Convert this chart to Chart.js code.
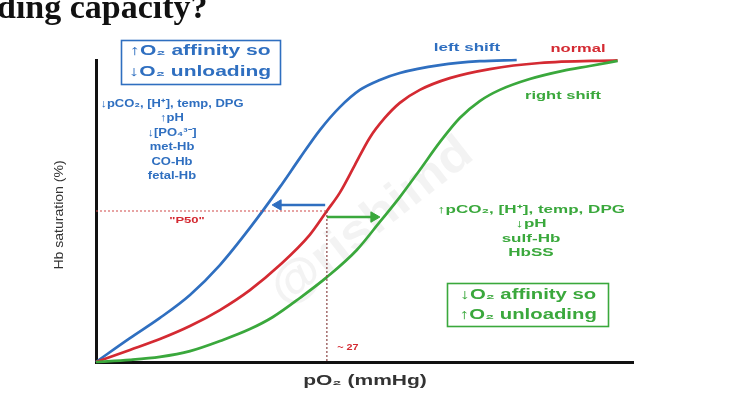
<!DOCTYPE html>
<html>
<head>
<meta charset="utf-8">
<script src="https://cdn.jsdelivr.net/npm/chart.js@4.4.1/dist/chart.umd.min.js"></script>
<style>
  html, body { margin: 0; padding: 0; background: #fff; }
  #wrap { width: 754px; height: 394px; position: relative; }
</style>
</head>
<body>
<div id="wrap"><canvas id="odc" width="754" height="394"></canvas></div>
<script>
// pO2 (mmHg) and Hb saturation (%)
const leftPO2 = [0, 3.97, 7.48, 10.99, 14.49, 18.0, 21.5, 23.84, 26.18, 28.52, 30.86, 33.19, 35.53, 40.21, 44.88, 49.2];
const leftSat = [0, 7.9, 14.6, 22.2, 32.1, 44.4, 57.9, 67.5, 76.8, 84.4, 90.1, 93.4, 95.7, 98.3, 99.6, 100];

const normalPO2 = [0, 3.97, 7.48, 10.99, 14.49, 18.0, 21.5, 25.0, 27.0, 28.5, 30.27, 32.0, 33.77, 35.53, 37.87, 41.37, 46.05, 51.89, 61.0];
const normalSat = [0, 4.0, 7.6, 11.9, 17.2, 23.8, 32.1, 42.1, 50, 56.0, 65.2, 74.2, 80.8, 85.8, 90.1, 94.0, 97.0, 99.0, 99.9];

const rightPO2 = [0, 3.97, 7.48, 10.99, 14.84, 18.0, 20.69, 23.84, 27.0, 30.5, 33.19, 35.53, 37.87, 40.21, 42.54, 44.88, 47.22, 50.72, 54.58, 57.74, 61.0];
const rightSat = [0, 0.7, 1.7, 3.6, 7.3, 10.9, 14.9, 21.2, 28.1, 37.1, 46.4, 54.6, 63.6, 72.8, 80.8, 86.4, 90.1, 93.7, 96.4, 98.0, 99.7];

const p50 = [27, 50];            // normal P50 marker
const leftArrowPO2 = [26.8, 21.3];
const leftArrowSat = [52, 52];
const rightArrowPO2 = [27.0, 32.5];
const rightArrowSat = [48, 48];

const xRange = [0, 62.8];
const yRange = [0, 100];

const BLUE = '#2f6fc0';
const RED = '#d42a32';
const GREEN = '#3aa83c';

const pts = (xs, ys) => xs.map((x, i) => ({ x: x, y: ys[i] }));

function curve(label, xs, ys, color) {
  return {
    label: label,
    data: pts(xs, ys),
    borderColor: color,
    borderWidth: 2.7,
    pointRadius: 0,
    cubicInterpolationMode: 'monotone',
    clip: false
  };
}

function arrow(xs, ys, color, rot) {
  return {
    data: pts(xs, ys),
    borderColor: color,
    backgroundColor: color,
    borderWidth: 2.5,
    pointStyle: 'triangle',
    pointRadius: [0, 6],
    pointBackgroundColor: color,
    pointBorderColor: color,
    pointBorderWidth: 1,
    rotation: [0, rot],
    clip: false
  };
}

// the source font is a wide bold face, so stretch text sideways
function wide(c, text, x, y, sx) {
  c.save();
  c.translate(x, y);
  c.scale(sx, 1);
  c.fillText(text, 0, 0);
  c.restore();
}

const sans = '"Liberation Sans", Arial, sans-serif';

const notes = {
  id: 'notes',
  beforeDatasetsDraw(chart) {
    const c = chart.ctx;
    c.save();
    c.translate(372, 222);
    c.rotate(-38 * Math.PI / 180);
    c.font = 'bold 48px ' + sans;
    c.fillStyle = 'rgba(160,160,160,0.13)';
    c.textAlign = 'center';
    c.textBaseline = 'middle';
    wide(c, '@rishimd', 0, 0, 1.1);
    c.restore();
  },
  afterDraw(chart) {
    const c = chart.ctx;
    const sx = chart.scales.x, sy = chart.scales.y;
    c.save();

    // cropped heading
    c.font = 'bold 34px "Liberation Serif", "Times New Roman", serif';
    c.fillStyle = '#111';
    c.textAlign = 'left';
    c.textBaseline = 'alphabetic';
    c.fillText('ding capacity?', -3, 18);

    c.textBaseline = 'middle';
    c.textAlign = 'center';

    // left shift box
    c.strokeStyle = BLUE;
    c.lineWidth = 1.6;
    c.strokeRect(121.5, 40.5, 159, 44);
    c.fillStyle = BLUE;
    c.font = 'bold 14px ' + sans;
    wide(c, '↑O₂ affinity so', 200, 51, 1.5);
    wide(c, '↓O₂ unloading', 200, 72, 1.5);

    c.font = 'bold 11px ' + sans;
    const leftList = ['↓pCO₂, [H⁺], temp, DPG', '↑pH', '↓[PO₄³⁻]', 'met-Hb', 'CO-Hb', 'fetal-Hb'];
    leftList.forEach((t, i) => wide(c, t, 172, 104 + i * 14.4, 1.18));

    // right shift box
    c.strokeStyle = GREEN;
    c.strokeRect(447.5, 283.5, 161, 43);
    c.fillStyle = GREEN;
    c.font = 'bold 14px ' + sans;
    wide(c, '↓O₂ affinity so', 528, 295, 1.45);
    wide(c, '↑O₂ unloading', 528, 315, 1.45);

    c.font = 'bold 11px ' + sans;
    const rightList = ['↑pCO₂, [H⁺], temp, DPG', '↓pH', 'sulf-Hb', 'HbSS'];
    rightList.forEach((t, i) => wide(c, t, 531, 210 + i * 14.4, 1.55));

    // curve labels
    c.font = 'bold 11px ' + sans;
    c.fillStyle = BLUE;
    wide(c, 'left shift', 467, 48, 1.55);
    c.fillStyle = RED;
    wide(c, 'normal', 578, 49, 1.5);
    c.fillStyle = GREEN;
    wide(c, 'right shift', 563, 96, 1.5);

    // P50 marks
    c.fillStyle = RED;
    c.font = 'bold 9px ' + sans;
    wide(c, '"P50"', 187, sy.getPixelForValue(p50[1]) + 10, 1.45);
    wide(c, '~ 27', sx.getPixelForValue(p50[0]) + 21, 348, 1.2);

    // axis titles
    c.fillStyle = '#333';
    c.font = 'bold 14px ' + sans;
    wide(c, 'pO₂ (mmHg)', 365, 381, 1.5);
    c.save();
    c.translate(60, 215);
    c.rotate(-Math.PI / 2);
    c.font = '12px ' + sans;
    wide(c, 'Hb saturation (%)', 0, 0, 1.17);
    c.restore();

    c.restore();
  }
};

new Chart(document.getElementById('odc'), {
  type: 'line',
  data: {
    datasets: [
      {
        data: [{ x: xRange[0], y: p50[1] }, { x: p50[0], y: p50[1] }],
        borderColor: '#d04848',
        borderWidth: 1.2,
        borderDash: [2, 2],
        pointRadius: 0
      },
      {
        data: [{ x: p50[0], y: p50[1] }, { x: p50[0], y: yRange[0] }],
        borderColor: '#8a4444',
        borderWidth: 1.2,
        borderDash: [2, 2],
        pointRadius: 0
      },
      curve('right shift', rightPO2, rightSat, GREEN),
      curve('normal', normalPO2, normalSat, RED),
      curve('left shift', leftPO2, leftSat, BLUE),
      arrow(leftArrowPO2, leftArrowSat, BLUE, -90),
      arrow(rightArrowPO2, rightArrowSat, GREEN, 90)
    ]
  },
  options: {
    responsive: false,
    animation: false,
    devicePixelRatio: 1,
    layout: { padding: { left: 88, right: 121, top: 60, bottom: 24 } },
    plugins: { legend: { display: false }, tooltip: { enabled: false } },
    scales: {
      x: {
        type: 'linear',
        min: xRange[0],
        max: xRange[1],
        ticks: { display: false },
        grid: { display: false },
        border: { display: true, color: '#111', width: 3 }
      },
      y: {
        type: 'linear',
        min: yRange[0],
        max: yRange[1],
        ticks: { display: false },
        grid: { display: false },
        border: { display: true, color: '#111', width: 3 }
      }
    }
  },
  plugins: [notes]
});
</script>
</body>
</html>
